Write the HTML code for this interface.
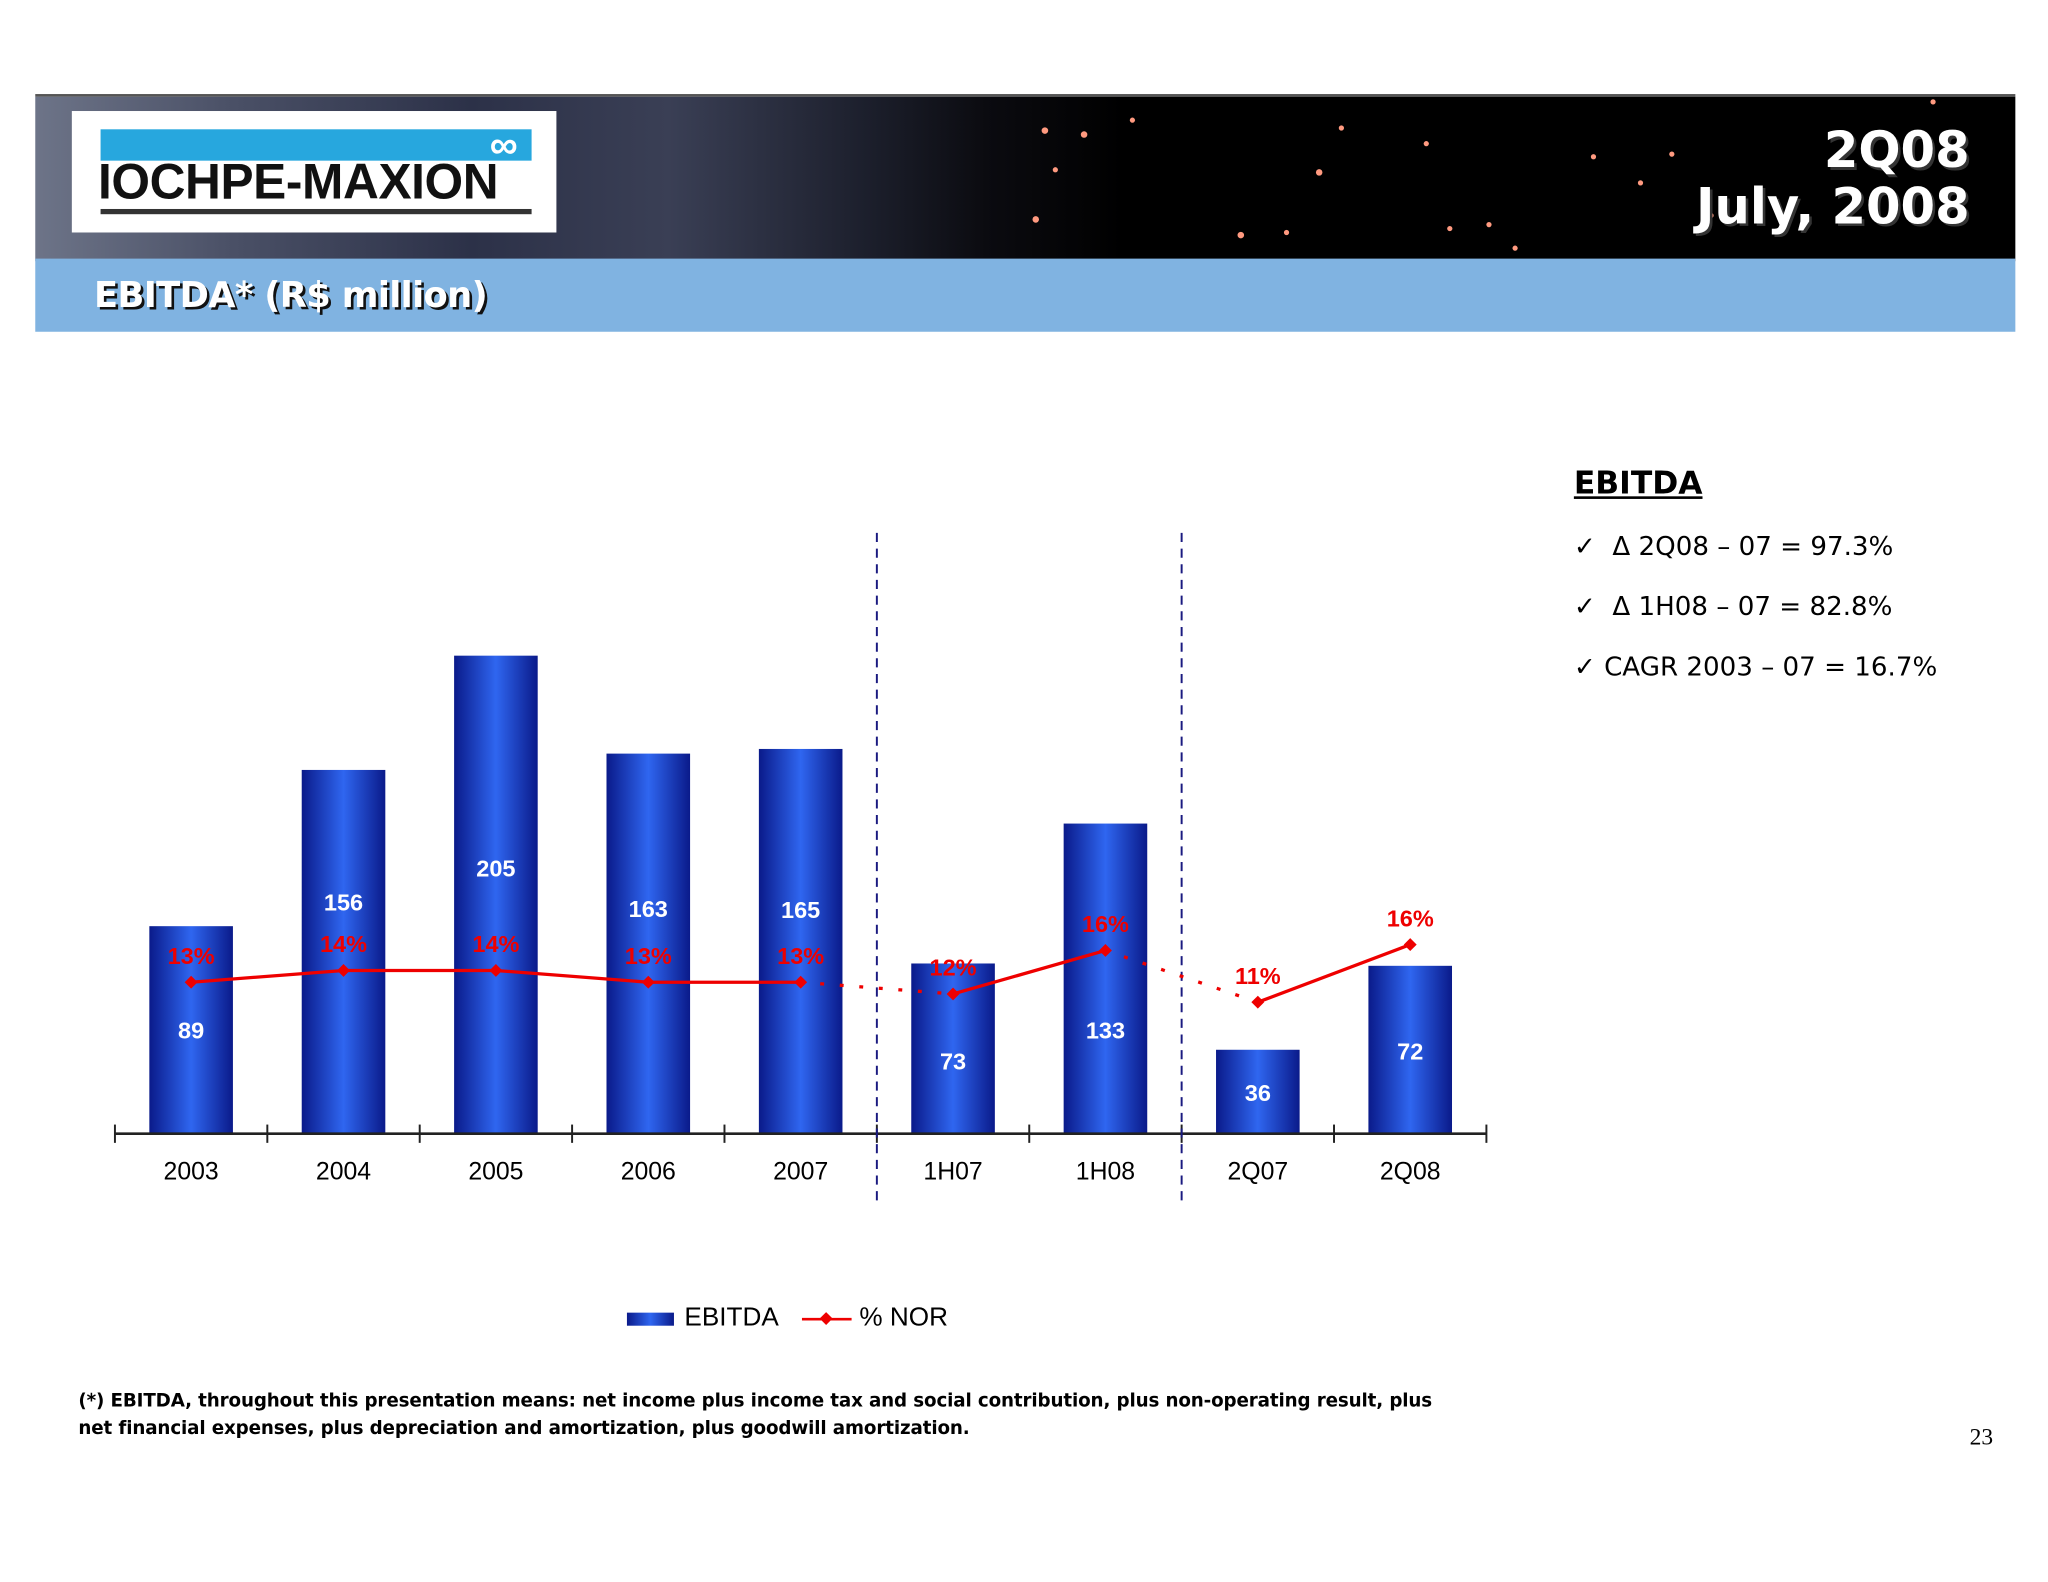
<!DOCTYPE html>
<html><head><meta charset="utf-8">
<style>
html,body{margin:0;padding:0;background:#fff;}
#wrap{width:2048px;height:1582px;overflow:hidden;position:relative;background:#fff;}
#stage{position:absolute;left:0;top:0;width:1568px;height:1211px;transform:scale(1.30612);transform-origin:0 0;font-family:"Liberation Sans",sans-serif;}
.abs{position:absolute;}
</style></head><body>
<div id="wrap"><div id="stage">
<div class="abs" style="left:27px;top:72px;width:1516px;height:126px;background:linear-gradient(90deg,#6d7488 0%,#4a5066 10%,#2c3148 22%,#3a3f55 32%,#1c1f2c 42%,#0b0b10 48%,#000 55%,#000 100%);border-top:2px solid #555;"></div>
<svg class="abs" style="left:0;top:0" width="1568" height="200">
<g fill="#ff9a80">
<circle cx="800" cy="100" r="2.5"/><circle cx="830" cy="103" r="2.5"/><circle cx="867" cy="92" r="2"/><circle cx="808" cy="130" r="2"/><circle cx="793" cy="168" r="2.5"/><circle cx="1010" cy="132" r="2.5"/><circle cx="1027" cy="98" r="2"/><circle cx="950" cy="180" r="2.5"/><circle cx="985" cy="178" r="2"/><circle cx="1092" cy="110" r="2"/><circle cx="1140" cy="172" r="2"/><circle cx="1160" cy="190" r="2"/><circle cx="1220" cy="120" r="2"/><circle cx="1280" cy="118" r="2"/><circle cx="1310" cy="165" r="2"/><circle cx="1110" cy="175" r="2"/><circle cx="1480" cy="78" r="2"/><circle cx="1256" cy="140" r="2"/>
</g></svg>
<div class="abs" style="left:55px;top:85px;width:371px;height:93px;background:#fff;">
 <div class="abs" style="left:22px;top:14px;width:330px;height:24px;background:#27a7de;"></div>
 <div class="abs" style="left:320px;top:10px;color:#fff;font-size:30px;font-weight:bold;">∞</div>
 <div class="abs" style="left:20px;top:34px;font-size:38px;font-weight:bold;color:#111;letter-spacing:-0.3px;">IOCHPE-MAXION</div>
 <div class="abs" style="left:22px;top:75px;width:330px;height:4px;background:#333;"></div>
</div>
<div class="abs" style="right:60px;top:94px;text-align:right;color:#fff;font-family:'DejaVu Sans',sans-serif;font-weight:bold;font-size:38px;line-height:43px;text-shadow:2px 2px 0 #333;">2Q08<br>July, 2008</div>
<div class="abs" style="left:27px;top:198px;width:1516px;height:56px;background:#80b3e1;"></div>
<div class="abs" style="left:72px;top:211px;color:#fff;font-family:'DejaVu Sans',sans-serif;font-weight:bold;font-size:27px;letter-spacing:-0.5px;text-shadow:2px 2px 0 #111;">EBITDA* (R$ million)</div>

<svg id="chart" class="abs" style="left:0;top:0" width="1568" height="1211">
<defs><linearGradient id="bg" x1="0" x2="1" y1="0" y2="0">
<stop offset="0" stop-color="#0a1a8a"/><stop offset="0.5" stop-color="#2f66f0"/><stop offset="1" stop-color="#0a1a8a"/></linearGradient></defs>
<g id="bars"></g><g id="axis"></g><g id="line"></g><g id="labels"></g>
</svg>

<div class="abs" style="left:480px;top:997px;font-size:20px;color:#000;height:26px;width:300px;">
 <div class="abs" style="left:0;top:8px;width:36px;height:10px;background:linear-gradient(90deg,#0a1a8a,#2f66f0,#0a1a8a);"></div>
 <div class="abs" style="left:44px;top:1px;">EBITDA</div>
 <div class="abs" style="left:134px;top:12px;width:38px;height:2px;background:#e00;"></div>
 <div class="abs" style="left:149px;top:9px;width:7px;height:7px;background:#e00;transform:rotate(45deg);"></div>
 <div class="abs" style="left:178px;top:1px;">% NOR</div>
</div>

<div class="abs" style="left:1205px;top:356px;font-family:'DejaVu Sans',sans-serif;font-weight:bold;font-size:24px;text-decoration:underline;">EBITDA</div>
<div class="abs" style="left:1205px;top:395px;font-family:'DejaVu Sans',sans-serif;font-size:20px;line-height:46px;white-space:pre;">✓  Δ 2Q08 – 07 = 97.3%
✓  Δ 1H08 – 07 = 82.8%
✓ CAGR 2003 – 07 = 16.7%</div>
<div class="abs" style="left:60px;top:1063px;font-family:'DejaVu Sans',sans-serif;font-weight:bold;font-size:14px;line-height:21px;width:1060px;letter-spacing:-0.1px;">(*) EBITDA, throughout this presentation means: net income plus income tax and social contribution, plus non-operating result, plus net financial expenses, plus depreciation and amortization, plus goodwill amortization.</div>
<div class="abs" style="left:1508px;top:1090px;font-family:'Liberation Serif',serif;font-size:18px;">23</div>
</div></div>
<script>
const categories=["2003","2004","2005","2006","2007","1H07","1H08","2Q07","2Q08"];
const ebitda=[89,156,205,163,165,73,133,36,72];
const nor=[13.0,14.0,14.0,13.0,13.0,12.0,15.7,11.3,16.2];
const norLabels=["13%","14%","14%","13%","13%","12%","16%","11%","16%"];
const segStyle=["solid","solid","solid","solid","dot","solid","dot","solid"];
const NS="http://www.w3.org/2000/svg";
const x0=88,step=116.67,base=868,barW=64;
const xc=i=>x0+step*(i+0.5);
const yBar=v=>base-v*(366/205);
const yPct=v=>869-9*v;
function mk(tag,attrs,parent){const e=document.createElementNS(NS,tag);for(const k in attrs)e.setAttribute(k,attrs[k]);parent.appendChild(e);return e;}
const gB=document.getElementById('bars'),gA=document.getElementById('axis'),gL=document.getElementById('line'),gT=document.getElementById('labels');
const valLabelY=[795,697,671,702,703,819,795,843,811];
categories.forEach((c,i)=>{
 const r=mk('rect',{x:xc(i)-barW/2,y:yBar(ebitda[i]),width:barW,height:base-yBar(ebitda[i]),fill:'url(#bg)'},gB);
 
 
 const t=mk('text',{x:xc(i),y:0,fill:'#fff','font-size':18,'font-weight':'bold','text-anchor':'middle'},gT);
 t.setAttribute('y',Math.min(valLabelY[i],base-12));
 t.textContent=ebitda[i];
 
 
 const xl=mk('text',{x:xc(i),y:903,fill:'#000','font-size':19,'text-anchor':'middle'},gA);
 xl.textContent=c;
 
 
});
mk('line',{x1:x0,x2:x0+step*9,y1:base,y2:base,stroke:'#222','stroke-width':2},gA);
for(let i=0;i<=9;i++)mk('line',{x1:x0+step*i,x2:x0+step*i,y1:base-7,y2:base+7,stroke:'#222','stroke-width':1.5},gA);
[5,7].forEach(k=>{const d=mk('line',{x1:x0+step*k,x2:x0+step*k,y1:408,y2:920,stroke:'#1a1a80','stroke-width':1.5,'stroke-dasharray':'7,5'},gA);
 
 });
for(let i=0;i<nor.length-1;i++){
 const l=mk('line',{x1:xc(i),y1:yPct(nor[i]),x2:xc(i+1),y2:yPct(nor[i+1]),stroke:'#e00','stroke-width':2.5},gL);
 if(segStyle[i]==='dot')l.setAttribute('stroke-dasharray','3,12');
}
nor.forEach((v,i)=>{
 const m=mk('rect',{x:xc(i)-3.5,y:yPct(v)-3.5,width:7,height:7,fill:'#e00',transform:`rotate(45 ${xc(i)} ${yPct(v)})`},gL);
 
 
 const t=mk('text',{x:xc(i),y:yPct(v)-14,fill:'#e00','font-size':18,'font-weight':'bold','text-anchor':'middle'},gT);
 t.textContent=norLabels[i];
 
 
});
</script>
</body></html>
